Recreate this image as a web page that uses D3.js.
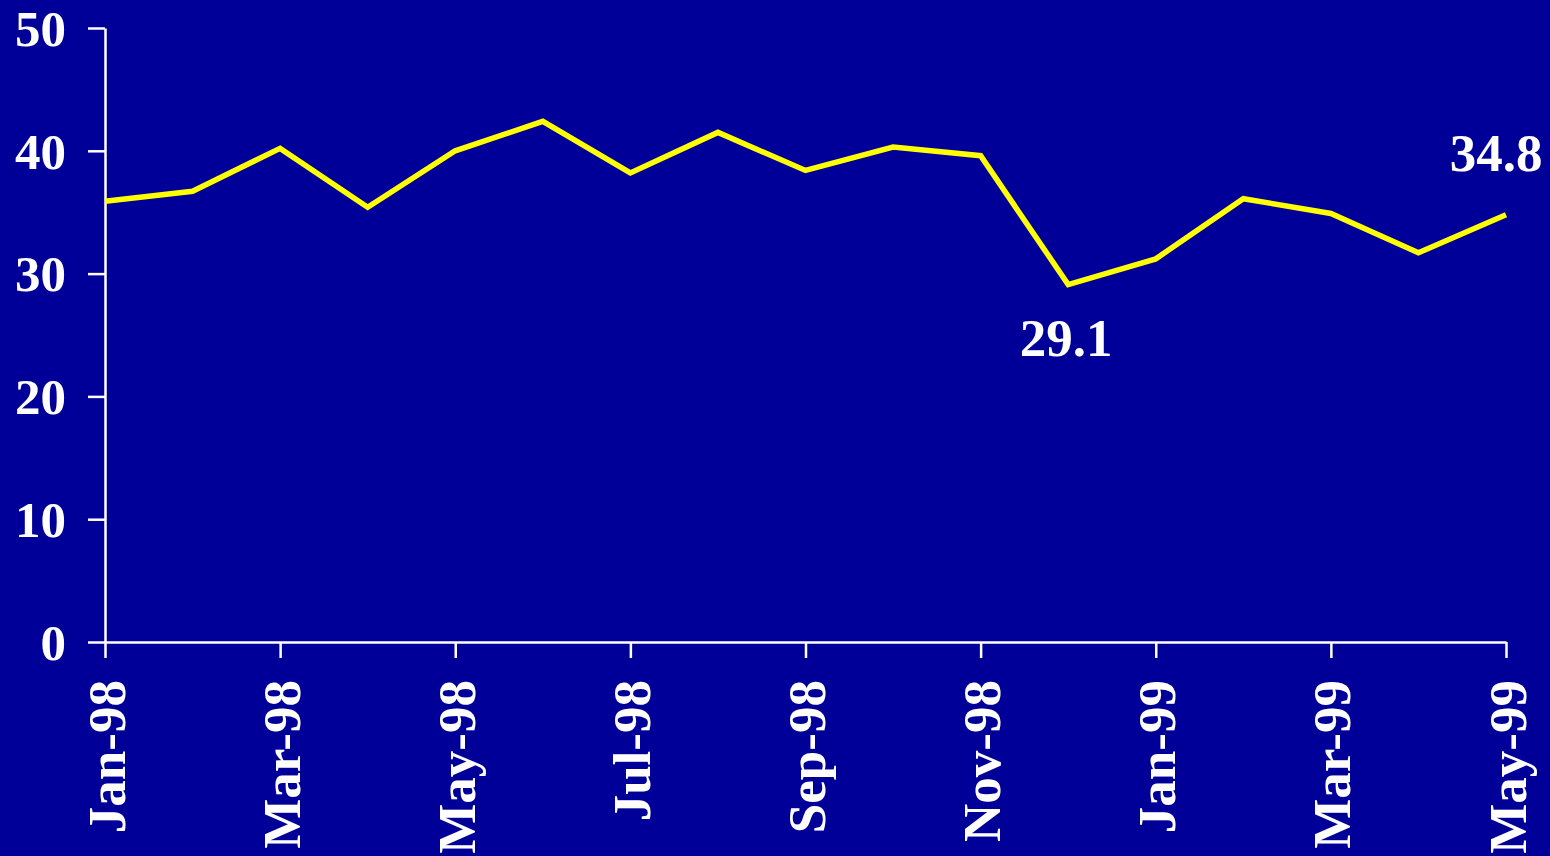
<!DOCTYPE html>
<html>
<head>
<meta charset="utf-8">
<script src="https://cdn.jsdelivr.net/npm/d3@7"></script>
<style>
  html, body { margin: 0; padding: 0; background: #000099; overflow: hidden; }
  text { font-family: "Liberation Serif", "Times New Roman", serif; font-weight: bold; fill: #ffffff; }
</style>
</head>
<body>
<div class="container"></div>
<script>
// monthly values, Jan-98 .. May-99
const months = ["Jan-98", "Feb-98", "Mar-98", "Apr-98", "May-98", "Jun-98", "Jul-98", "Aug-98",
                "Sep-98", "Oct-98", "Nov-98", "Dec-98", "Jan-99", "Feb-99", "Mar-99", "Apr-99", "May-99"];
const values = [35.9, 36.7, 40.2, 35.4, 40.0, 42.4, 38.2, 41.5,
                38.4, 40.3, 39.6, 29.1, 31.2, 36.1, 34.9, 31.7, 34.8];
const yTicks = [0, 10, 20, 30, 40, 50];
const tickMonths = ["Jan-98", "Mar-98", "May-98", "Jul-98", "Sep-98", "Nov-98", "Jan-99", "Mar-99", "May-99"];
// labelled points: [index, text]
const callouts = [[11, "29.1"], [16, "34.8"]];

const w = 1550;
const h = 856;

const xScale = d3.scalePoint()
                 .domain(months)
                 .range([105, 1506]);
const yScale = d3.scaleLinear()
                 .domain([0, 50])
                 .range([642, 28]);

const svg = d3.select(".container")
              .append("svg")
              .attr("width", w)
              .attr("height", h);

svg.append("rect")
   .attr("width", w)
   .attr("height", h)
   .attr("fill", "#000099");

const yAxis = d3.axisLeft(yScale)
                .tickValues(yTicks)
                .tickSize(17)
                .tickSizeOuter(0)
                .tickPadding(22);

const xAxis = d3.axisBottom(xScale)
                .tickValues(tickMonths)
                .tickSize(16)
                .tickSizeOuter(0);

const gx = svg.append("g")
   .attr("id", "x-axis")
   .attr("transform", "translate(0," + yScale(0) + ")")
   .call(xAxis);

gx.selectAll("text")
  .attr("transform", "rotate(-90)")
  .attr("x", -38)
  .attr("y", 0)
  .attr("dy", "0.36em")
  .attr("text-anchor", "end")
  .style("font-size", "53px");

const gy = svg.append("g")
   .attr("id", "y-axis")
   .attr("transform", "translate(" + xScale("Jan-98") + ",0)")
   .call(yAxis);

gy.selectAll("text")
  .attr("dy", "0.34em")
  .style("font-size", "51px");

svg.selectAll(".domain, .tick line")
   .attr("stroke", "#ffffff")
   .attr("stroke-width", 2.5);

svg.selectAll(".tick text").attr("fill", "#ffffff");

const line = d3.line()
               .x((d, i) => xScale(months[i]))
               .y((d) => yScale(d));

svg.append("path")
   .datum(values)
   .attr("d", line)
   .attr("fill", "none")
   .attr("stroke", "#ffff00")
   .attr("stroke-width", 5.5)
   .attr("stroke-linejoin", "miter");

svg.selectAll(".callout")
   .data(callouts)
   .enter()
   .append("text")
   .attr("class", "callout")
   .attr("x", (d) => xScale(months[d[0]]) + (d[0] === 16 ? -10 : -2))
   .attr("y", (d) => yScale(values[d[0]]) + (d[0] === 16 ? -44 : 71))
   .attr("text-anchor", "middle")
   .style("font-size", "53px")
   .text((d) => d[1]);
</script>
</body>
</html>
